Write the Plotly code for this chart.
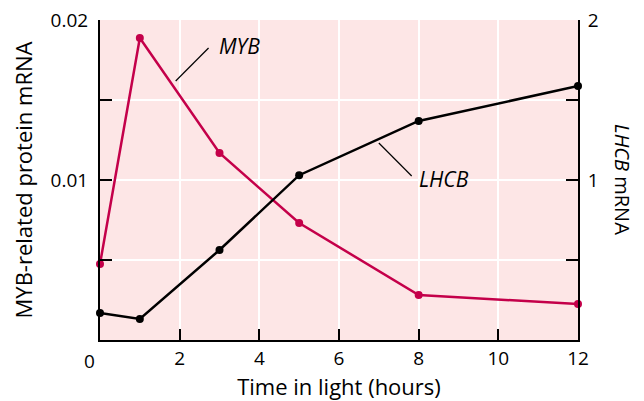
import plotly.graph_objects as go

# time points (hours in light)
hours = [0, 1, 3, 5, 8, 12]
# MYB-related protein mRNA (left axis)
myb = [0.00475, 0.01888, 0.01169, 0.00731, 0.00281, 0.00225]
# LHCB mRNA (right axis)
lhcb = [0.169, 0.131, 0.5625, 1.03, 1.369, 1.5875]

x_ticks = [2, 4, 6, 8, 10, 12]
left_ticks = [0.005, 0.01, 0.015, 0.02]
left_labels = ["", "0.01", "", "0.02"]
right_ticks = [0.5, 1, 1.5, 2]
right_labels = ["", "1", "", "2"]

FONT = "Open Sans"
RED = "#c4004a"
PINK = "#fde6e6"
TICKFONT = dict(family=FONT, size=19, color="black")

fig = go.Figure()
fig.add_trace(go.Scatter(x=hours, y=myb, mode="lines+markers", cliponaxis=False,
                         line=dict(color=RED, width=2.5), marker=dict(color=RED, size=8),
                         showlegend=False))
fig.add_trace(go.Scatter(x=hours, y=lhcb, mode="lines+markers", cliponaxis=False, yaxis="y2",
                         line=dict(color="black", width=2.5), marker=dict(color="black", size=8),
                         showlegend=False))

# pointer lines for the series labels
fig.add_shape(type="line", xref="x", yref="y", x0=1.9, y0=0.01619, x1=2.725, y1=0.01825,
              line=dict(color="black", width=1.2))
fig.add_shape(type="line", xref="x", yref="y2", x0=7.0, y0=1.231, x1=7.825, y1=1.025,
              line=dict(color="black", width=1.2))

fig.add_annotation(x=3.5, y=0.018375, xref="x", yref="y", text="<i>MYB</i>", showarrow=False,
                   font=dict(size=21, color="black", family=FONT))
fig.add_annotation(x=8.625, y=1.006, xref="x", yref="y2", text="<i>LHCB</i>", showarrow=False,
                   font=dict(size=21, color="black", family=FONT))
# right axis title reads top to bottom
fig.add_annotation(x=1.094, y=0.5, xref="paper", yref="paper", xanchor="center",
                   text="<i>LHCB</i> mRNA", showarrow=False, textangle=90,
                   font=dict(size=20, color="black", family=FONT))
# zero label for the x axis, nudged left of the corner
fig.add_annotation(x=0, y=0, xref="x", yref="paper", yanchor="top", text="0", showarrow=False,
                   xshift=-11, yshift=-6, font=TICKFONT)

# page body adds a small offset, so margins are trimmed on the top/left
fig.update_layout(
    width=644, height=401,
    margin=dict(l=92, r=74, t=12, b=69),
    paper_bgcolor="white", plot_bgcolor=PINK,
    font=dict(family=FONT, size=18, color="black"),
    xaxis=dict(range=[0, 12], tickvals=x_ticks, ticks="inside", ticklen=11, tickwidth=1.5,
               tickcolor="black", showline=True, linecolor="black", linewidth=2,
               showgrid=True, gridcolor="white", gridwidth=1.5, zeroline=False,
               tickfont=TICKFONT, automargin=False, ticklabeloverflow="allow",
               title=dict(text="Time in light (hours)", standoff=8)),
    yaxis=dict(range=[0, 0.02], tickvals=left_ticks, ticktext=left_labels, ticks="inside",
               ticklen=12, tickwidth=1.5, tickcolor="black", showline=True, linecolor="black",
               linewidth=2, showgrid=True, gridcolor="white", gridwidth=1.5, zeroline=False,
               ticklabelstandoff=6, tickfont=TICKFONT, automargin=False,
               ticklabeloverflow="allow",
               title=dict(text="MYB-related protein mRNA", standoff=12)),
    yaxis2=dict(range=[0, 2], overlaying="y", side="right", tickvals=right_ticks,
                ticktext=right_labels, ticks="inside", ticklen=12, tickwidth=1.5,
                tickcolor="black", showline=True, linecolor="black", linewidth=2,
                showgrid=False, zeroline=False, ticklabelstandoff=4, tickfont=TICKFONT,
                automargin=False, ticklabeloverflow="allow"),
)

fig.write_html("out.html")
